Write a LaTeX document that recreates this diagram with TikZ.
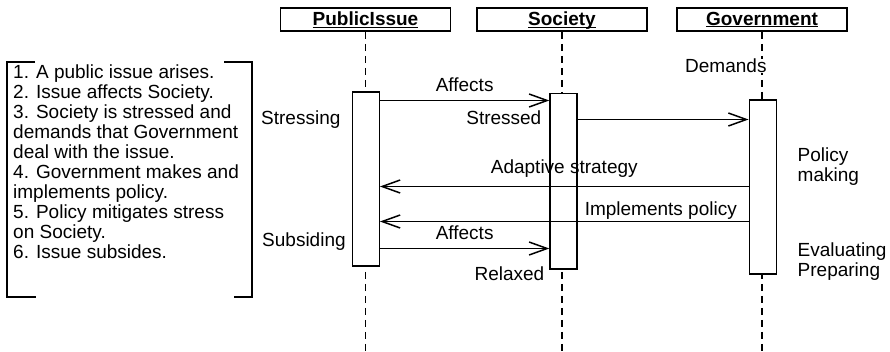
\documentclass[tikz,border=0pt]{standalone}
\usepackage{fontspec}
\setmainfont{Liberation Sans}
\usetikzlibrary{arrows.meta,positioning}
\newcommand{\seqsize}{\fontsize{19}{20}\selectfont}
\newcommand{\headtext}[1]{\underline{\raisebox{0pt}[\height][0pt]{#1}}}
\tikzset{
  headbox/.style={draw, line width=1.5pt, minimum width=170pt, minimum height=23pt,
                  inner sep=0pt, font=\seqsize\bfseries},
  lifeline/.style={line width=1.4pt, dash pattern=on 7pt off 5pt},
  actbox/.style={draw, fill=white, line width=1.4pt, minimum width=27pt, inner sep=0pt},
  msg/.style={-{Straight Barb[length=18pt,width=13pt]}, line width=1.5pt},
  msglabel/.style={above=8pt, inner sep=0pt},
  statenote/.style={inner sep=0pt, align=left},
  bracket/.style={line width=1.4pt},
}

\begin{document}
\begin{tikzpicture}[x=1pt, y=-1pt, font=\seqsize]
    \useasboundingbox (0,0) rectangle (890,351);
    % objects and their lifelines
    \node[headbox] (pi) at (365.5,19.5) {\headtext{PublicIssue}};
    \node[headbox] (soc) at (562,19.5) {\headtext{Society}};
    \node[headbox] (gov) at (762,19.5) {\headtext{Government}};
    \coordinate (bottom) at (0,351);
    \draw[lifeline] (pi.south) -- (pi.south |- bottom);
    \draw[lifeline] (soc.south) -- (soc.south |- bottom);
    \draw[lifeline] (gov.south) -- (gov.south |- bottom);
    \node[statenote, fill=white, anchor=base west] (demands) at (685,72.7) {Demands};
    % activations
    \node[actbox, minimum height=174pt] (piact) at (365.75,179) {};
    \node[actbox, minimum height=175.5pt] (soact) at (563.5,181.25) {};
    \node[actbox, minimum height=174pt] (goact) at (762.75,187) {};
    % messages
    \coordinate (r1) at (0,100.5);
    \coordinate (r2) at (0,119.5);
    \coordinate (r3) at (0,186.5);
    \coordinate (r4) at (0,221.5);
    \coordinate (r5) at (0,248.5);
    \draw[msg] (piact.east |- r1) -- node[msglabel] (affects) {Affects} (soact.west |- r1);
    \draw[msg] (soact.east |- r2) -- (goact.west |- r2);
    \draw[msg] (goact.west |- r3) -- node[msglabel] (adaptive) {Adaptive strategy} (piact.east |- r3);
    \draw[msg] (goact.west |- r4) -- node[pos=0, inner sep=0pt, anchor=south east, xshift=-11pt, yshift=1pt] (implements) {Implements policy} (piact.east |- r4);
    \draw[msg] (piact.east |- r5) -- node[msglabel] (affectsb) {Affects} (soact.west |- r5);
    % states
    \node[statenote, anchor=base west] (stressing) at (261,124.5) {Stressing};
    \node[statenote, anchor=base west] (subsiding) at (262,246) {Subsiding};
    \node[statenote, anchor=base east] (stressed) at (541.5,124.3) {Stressed};
    \node[statenote, anchor=base east] (relaxed) at (544.5,280.7) {Relaxed};
    \node[statenote, anchor=north west] (policy) at (797.5,147.5) {Policy\\making};
    \node[statenote, anchor=north west] (evaluating) at (797.5,243) {Evaluating\\Preparing};
    % scenario
    \node[statenote, anchor=north west] (steps) at (13,64.4)
      {1. A public issue arises.\\2. Issue affects Society.\\3. Society is stressed and\\demands that Government\\deal with the issue.\\4. Government makes and\\implements policy.\\5. Policy mitigates stress\\on Society.\\6. Issue subsides.};
    \draw[bracket] (35,62) -- (7,62) -- (7,297) -- (36,297);
    \draw[bracket] (224,62) -- (252,62) -- (252,297) -- (234,297);
\end{tikzpicture}
\end{document}
